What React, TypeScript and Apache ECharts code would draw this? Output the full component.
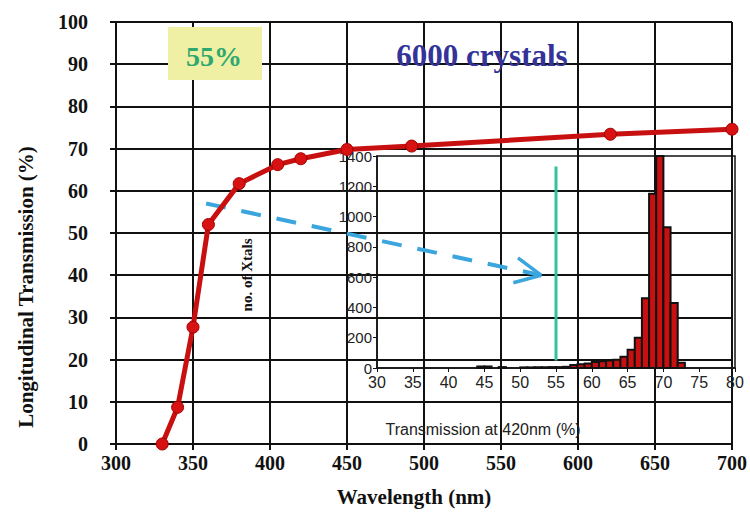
import React, { useEffect, useRef } from "react";
import * as echarts from "echarts";

// Main curve: longitudinal transmission vs wavelength
const wavelengths = [330, 340, 350, 360, 380, 405, 420, 450, 492, 621, 700];
const transmission = [0, 8.7, 27.7, 52, 61.7, 66.2, 67.6, 69.8, 70.6, 73.4, 74.6];

// Inset histogram: transmission at 420nm (bins of 1%)
const binStarts = [44, 45, 47, 50, 51, 52, 53, 54, 55, 56, 57, 58, 59, 60, 61, 62, 63, 64, 65, 66, 67, 68, 69, 70, 71, 72];
const binCounts = [10, 10, 6, 4, 4, 5, 5, 6, 6, 8, 20, 25, 30, 40, 45, 50, 55, 75, 120, 200, 460, 1150, 1400, 930, 430, 35];

// Inset cut line at 55%
const cutValue = 55;
const cutRange = [50, 1330];

// Dashed arrow (main chart data coordinates)
const arrowShaft = [[358.5, 57], [576, 40]];
const arrowHead = [[561, 44.1], [576, 40], [558, 38.2]];

// Tick settings
const mainXTicks = { min: 300, max: 700, interval: 50 };
const mainYTicks = { min: 0, max: 100, interval: 10 };
const insetXTicks = { min: 30, max: 80, interval: 5 };
const insetYTicks = { min: 0, max: 1400, interval: 200 };

const SERIF = '"Liberation Serif", "Times New Roman", serif';
const SANS = '"Liberation Sans", Arial, sans-serif';

export default function App() {
  const ref = useRef<HTMLDivElement>(null);
  useEffect(() => {
    if (!ref.current) return;
    const chart = echarts.init(ref.current, undefined, { renderer: "svg" });
    const histData = binStarts.map((s, i) => [s, s + 1, binCounts[i]]);
    const option: any = {
      animation: false,
      backgroundColor: "#ffffff",
      grid: [
        { left: 116, right: 12, top: 22, bottom: 81, show: false },
        {
          left: 377, right: 15, top: 156, bottom: 157, show: true,
          borderColor: "#111", borderWidth: 1.5, backgroundColor: "transparent",
        },
      ],
      xAxis: [
        {
          type: "value", gridIndex: 0, ...mainXTicks,
          axisLine: { show: true, lineStyle: { color: "#111", width: 2 } },
          axisTick: { show: true, length: 6, lineStyle: { color: "#111", width: 2 } },
          axisLabel: { margin: 9, fontFamily: SERIF, fontWeight: "bold", fontSize: 20, color: "#111" },
          splitLine: { show: true, lineStyle: { color: "#111", width: 2 } },
        },
        {
          type: "value", gridIndex: 1, ...insetXTicks,
          axisLine: { show: true, onZero: false, lineStyle: { color: "#111", width: 1.5 } },
          axisTick: { show: true, length: 4, lineStyle: { color: "#111" } },
          axisLabel: { margin: 6, fontFamily: SANS, fontSize: 16, color: "#222", formatter: (v: number) => String(v) },
          splitLine: { show: false },
        },
      ],
      yAxis: [
        {
          type: "value", gridIndex: 0, ...mainYTicks,
          axisLine: { show: true, lineStyle: { color: "#111", width: 2 } },
          axisTick: { show: true, length: 6, lineStyle: { color: "#111", width: 2 } },
          axisLabel: { margin: 28, fontFamily: SERIF, fontWeight: "bold", fontSize: 20, color: "#111" },
          splitLine: { show: true, lineStyle: { color: "#111", width: 2 } },
        },
        {
          type: "value", gridIndex: 1, ...insetYTicks,
          axisLine: { show: true, onZero: false, lineStyle: { color: "#111", width: 1.5 } },
          axisTick: { show: true, length: 4, lineStyle: { color: "#111" } },
          axisLabel: { margin: 5, fontFamily: SANS, fontSize: 15, color: "#222", formatter: (v: number) => String(v) },
          splitLine: { show: false },
        },
      ],
      series: [
        {
          type: "custom", xAxisIndex: 1, yAxisIndex: 1, z: 3,
          data: histData,
          encode: { x: [0, 1], y: 2 },
          renderItem: (params: any, api: any) => {
            const p0 = api.coord([api.value(0), api.value(2)]);
            const p1 = api.coord([api.value(1), 0]);
            return {
              type: "rect",
              shape: { x: p0[0], y: p0[1], width: p1[0] - p0[0], height: p1[1] - p0[1] },
              style: { fill: "#c81010", stroke: "#111", lineWidth: 2 },
            };
          },
        },
        {
          type: "line", xAxisIndex: 1, yAxisIndex: 1, z: 4,
          data: cutRange.map((c) => [cutValue, c]),
          symbol: "none",
          lineStyle: { color: "#2ec4a0", width: 3 },
        },
        {
          type: "line", xAxisIndex: 0, yAxisIndex: 0, z: 4,
          data: arrowShaft, symbol: "none",
          lineStyle: { color: "#3aa6dd", width: 4, type: [20, 16] },
        },
        {
          type: "line", xAxisIndex: 0, yAxisIndex: 0, z: 4,
          data: arrowHead, symbol: "none",
          lineStyle: { color: "#3aa6dd", width: 3.5 },
        },
        {
          type: "line", xAxisIndex: 0, yAxisIndex: 0, z: 6, clip: false,
          data: wavelengths.map((w, i) => [w, transmission[i]]),
          symbol: "circle", symbolSize: 12,
          lineStyle: { color: "#c81010", width: 5 },
          itemStyle: { color: "#d81212", borderColor: "#a00000", borderWidth: 1 },
        },
      ],
      graphic: [
        { type: "rect", shape: { x: 168, y: 27, width: 94, height: 53 }, style: { fill: "#f0f0a4" }, z: 10 },
        {
          type: "text", x: 214, y: 56, z: 11,
          style: { text: "55%", fill: "#2fa870", font: `bold 28px ${SERIF}`, textAlign: "center", textVerticalAlign: "middle" },
        },
        {
          type: "text", x: 482, y: 55, z: 11,
          style: { text: "6000 crystals", fill: "#333399", font: `bold 31px ${SERIF}`, textAlign: "center", textVerticalAlign: "middle" },
        },
        {
          type: "text", x: 26, y: 287, rotation: Math.PI / 2, z: 11,
          style: { text: "Longitudinal Transmission (%)", fill: "#111", font: `bold 21px ${SERIF}`, textAlign: "center", textVerticalAlign: "middle" },
        },
        {
          type: "text", x: 414, y: 497, z: 11,
          style: { text: "Wavelength (nm)", fill: "#111", font: `bold 21px ${SERIF}`, textAlign: "center", textVerticalAlign: "middle" },
        },
        {
          type: "text", x: 247, y: 275, rotation: Math.PI / 2, z: 11,
          style: { text: "no. of Xtals", fill: "#111", font: `bold 15px ${SERIF}`, textAlign: "center", textVerticalAlign: "middle" },
        },
        {
          type: "text", x: 483, y: 429, z: 11,
          style: { text: "Transmission at 420nm (%)", fill: "#222", font: `16px ${SANS}`, textAlign: "center", textVerticalAlign: "middle" },
        },
      ],
    };
    chart.setOption(option);
    return () => chart.dispose();
  }, []);
  return (
    <div
      ref={ref}
      style={{ position: "fixed", left: 0, top: 0, width: 750, height: 525, background: "#fff" }}
    />
  );
}
